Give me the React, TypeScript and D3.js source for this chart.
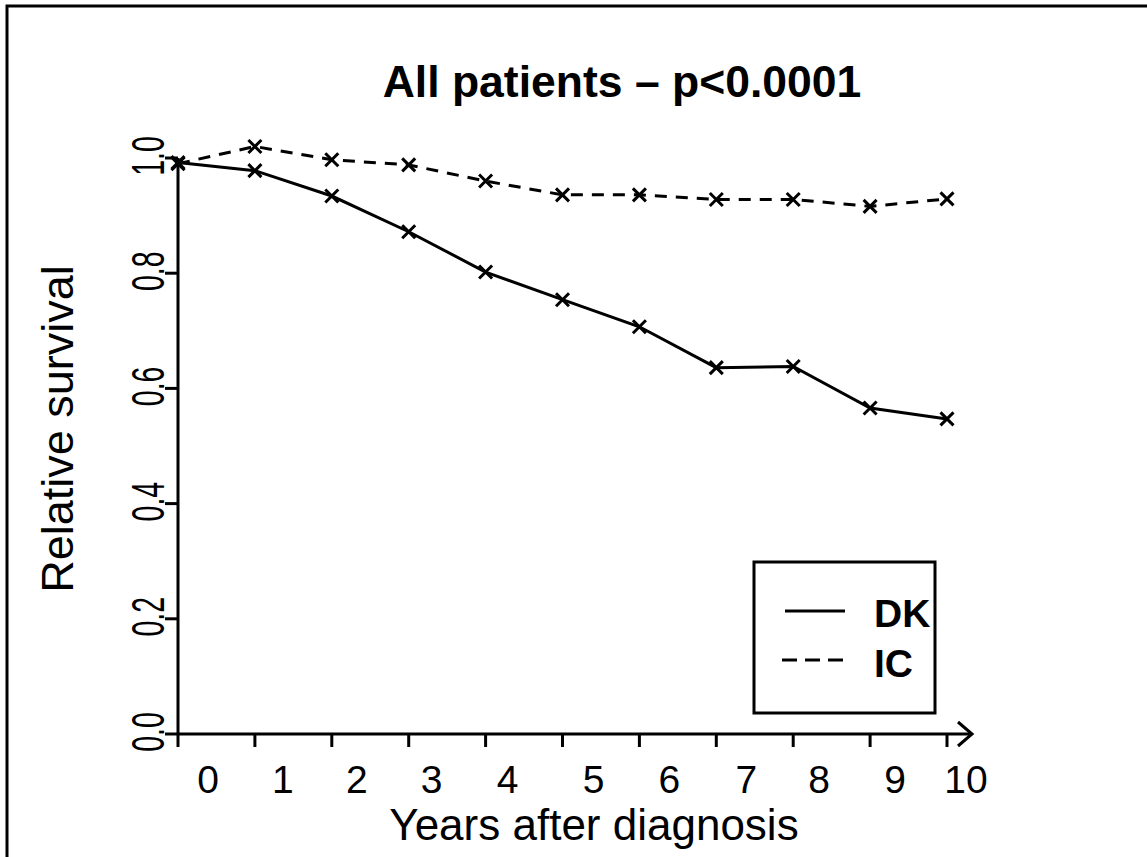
import React from "react";
import * as d3 from "d3";

// ---- data ----
const years: number[] = [0, 1, 2, 3, 4, 5, 6, 7, 8, 9, 10];
const dkSurvival: number[] = [0.992, 0.978, 0.934, 0.872, 0.802, 0.754, 0.707, 0.636, 0.638, 0.566, 0.547];
const icSurvival: number[] = [0.99, 1.02, 0.997, 0.988, 0.96, 0.936, 0.936, 0.928, 0.928, 0.916, 0.929];
const yTicks: number[] = [0.0, 0.2, 0.4, 0.6, 0.8, 1.0];
const xTickLabels: string[] = ["0", "1", "2", "3", "4", "5", "6", "7", "8", "9", "10"];
const seriesNames: string[] = ["DK", "IC"];
const titleText = "All patients \u2013 p<0.0001";
const xTitle = "Years after diagnosis";
const yTitle = "Relative survival";

// ---- layout ----
const W = 1147;
const H = 857;
const labelNudge = [30, 28, 25, 23, 22, 31, 30, 30, 26, 25, 19];
const FONT = "'Liberation Sans', Arial, Helvetica, sans-serif";

export default function App() {
  const x = d3.scaleLinear().domain([0, 10]).range([178, 947]);
  const y = d3.scaleLinear().domain([0, 1]).range([734, 158]);
  const line = d3
    .line<number>()
    .x((_, i) => x(years[i]))
    .y((d) => y(d));

  const cross = (cx: number, cy: number, key: string) => {
    const s = 6.5;
    return (
      <path
        key={key}
        d={`M${cx - s},${cy - s}L${cx + s},${cy + s}M${cx - s},${cy + s}L${cx + s},${cy - s}`}
        stroke="#000"
        strokeWidth={3}
        fill="none"
      />
    );
  };

  const x0 = x(0);
  const xEnd = 972;
  const y0 = y(0);

  return (
    <svg
      width={W}
      height={H}
      style={{ position: "fixed", left: 0, top: 0, background: "#fff" }}
      fontFamily={FONT}
    >
      <rect x={0} y={0} width={W} height={H} fill="#fff" />
      {/* outer frame (top & left) */}
      <path d={`M7,${H}L7,6L${W},6`} stroke="#000" strokeWidth={3} fill="none" />

      {/* title */}
      <text x={622} y={97} textAnchor="middle" fontWeight="bold" fontSize={44.5}>
        {titleText}
      </text>

      {/* y axis */}
      <line x1={x0} x2={x0} y1={y0 + 1} y2={y(1)} stroke="#000" strokeWidth={3} />
      {yTicks.map((t) => (
        <g key={"yt" + t}>
          <line x1={x0 - 13} x2={x0} y1={y(t)} y2={y(t)} stroke="#000" strokeWidth={3} />
          <text
            transform={`translate(164,${y(t) - 2}) rotate(-90) scale(0.62,1)`}
            textAnchor="middle"
            fontSize={46}
          >
            {t.toFixed(1)}
          </text>
        </g>
      ))}
      <text transform={`translate(73,429) rotate(-90)`} textAnchor="middle" fontSize={45}>
        {yTitle}
      </text>

      {/* x axis */}
      <line x1={x0} x2={xEnd} y1={y0} y2={y0} stroke="#000" strokeWidth={3} />
      <path
        d={`M${xEnd - 14},${y0 - 12}L${xEnd},${y0}L${xEnd - 14},${y0 + 12}`}
        stroke="#000"
        strokeWidth={3}
        fill="none"
      />
      {years.map((t, i) => (
        <g key={"xt" + t}>
          <line x1={x(t)} x2={x(t)} y1={y0} y2={y0 + 13} stroke="#000" strokeWidth={3} />
          <text x={x(t) + labelNudge[i]} y={793} textAnchor="middle" fontSize={39}>
            {xTickLabels[i]}
          </text>
        </g>
      ))}
      <text x={594} y={840} textAnchor="middle" fontSize={44}>
        {xTitle}
      </text>

      {/* series */}
      <path d={line(dkSurvival) || ""} stroke="#000" strokeWidth={3} fill="none" />
      <path
        d={line(icSurvival) || ""}
        stroke="#000"
        strokeWidth={3}
        fill="none"
        strokeDasharray="12,9"
      />
      {dkSurvival.map((v, i) => cross(x(years[i]), y(v), "dk" + i))}
      {icSurvival.map((v, i) => cross(x(years[i]), y(v), "ic" + i))}

      {/* legend */}
      <rect x={754} y={562} width={181} height={151} fill="#fff" stroke="#000" strokeWidth={3} />
      <line x1={785} x2={845} y1={611} y2={611} stroke="#000" strokeWidth={3} />
      <line x1={782} x2={845} y1={660} y2={660} stroke="#000" strokeWidth={3} strokeDasharray="15,8" />
      <text x={874} y={627} fontWeight="bold" fontSize={39}>
        {seriesNames[0]}
      </text>
      <text x={874} y={677} fontWeight="bold" fontSize={39}>
        {seriesNames[1]}
      </text>
    </svg>
  );
}
